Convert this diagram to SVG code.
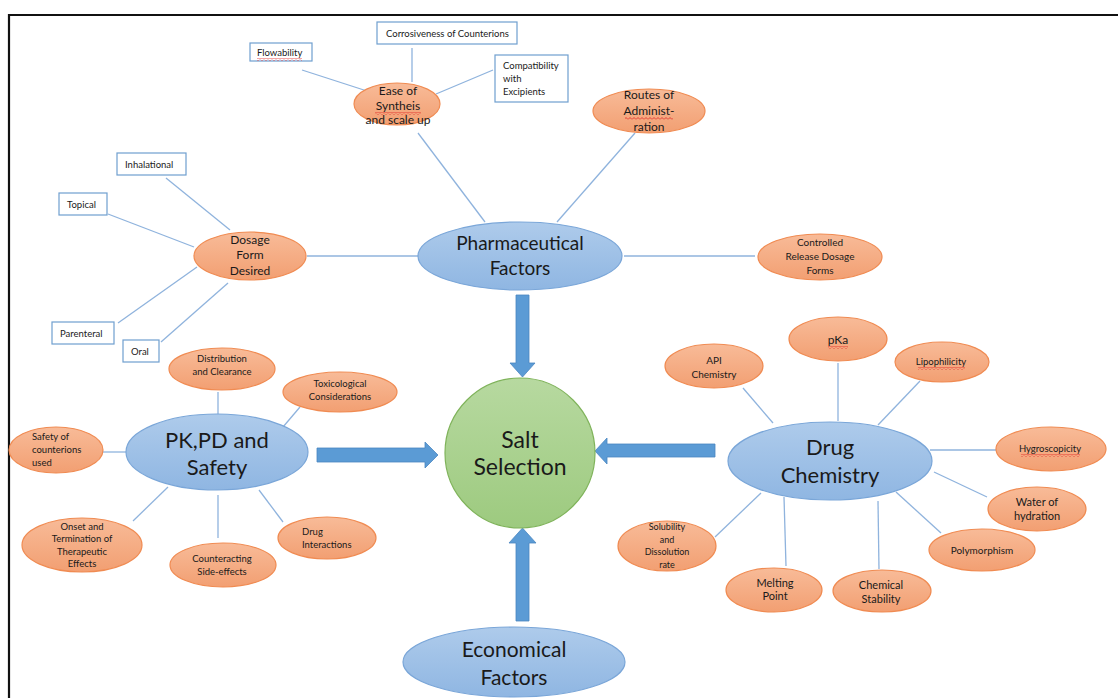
<svg xmlns="http://www.w3.org/2000/svg" width="1118" height="698" viewBox="0 0 1118 698">
<defs>
<linearGradient id="gOr" x1="0" y1="0" x2="0" y2="1"><stop offset="0" stop-color="#f8bb98"/><stop offset="1" stop-color="#f29f72"/></linearGradient>
<linearGradient id="gBl" x1="0" y1="0" x2="0" y2="1"><stop offset="0" stop-color="#aecbeb"/><stop offset="1" stop-color="#8fb6e2"/></linearGradient>
<linearGradient id="gGr" x1="0" y1="0" x2="0" y2="1"><stop offset="0" stop-color="#b7d9a0"/><stop offset="1" stop-color="#9dca7f"/></linearGradient>
<pattern id="wav" width="4" height="3" patternUnits="userSpaceOnUse"><path d="M0,2.5 L2,0.5 L4,2.5" fill="none" stroke="#e02020" stroke-width="0.8"/></pattern>
<style>
.or{fill:url(#gOr);stroke:#f08b52;stroke-width:1.2}
.bl{fill:url(#gBl);stroke:#7aa6d8;stroke-width:1.2}
.gr{fill:url(#gGr);stroke:#7fb35a;stroke-width:1.2}
.bx{fill:#fff;stroke:#6f9fcf;stroke-width:1.2}
.ln{stroke:#8fb3dd;stroke-width:1.3;fill:none}
.ar{fill:#5b9bd5;stroke:#4a86c0;stroke-width:0.8}
text{font-family:Lato,"Liberation Sans",sans-serif;fill:#1a1a1a}
.t10{font-size:10px}
.t11{font-size:11px}
.t12{font-size:12px}
.c{text-anchor:middle}
.w{fill:url(#wav)}
</style>
</defs>
<rect x="0" y="0" width="1118" height="698" fill="#fff"/>
<path d="M9,698 V15 H1118" fill="none" stroke="#111" stroke-width="2.2"/>

<g id="connectors">
<line class="ln" x1="302" y1="70" x2="367" y2="91"/>
<line class="ln" x1="412" y1="48" x2="412" y2="82"/>
<line class="ln" x1="436" y1="94" x2="493" y2="70"/>
<line class="ln" x1="418" y1="133" x2="485" y2="222"/>
<line class="ln" x1="635" y1="133" x2="557" y2="222"/>
<line class="ln" x1="624" y1="256" x2="755" y2="256"/>
<line class="ln" x1="307" y1="256" x2="418" y2="256"/>
<line class="ln" x1="166" y1="178" x2="230" y2="230"/>
<line class="ln" x1="108" y1="214" x2="194" y2="247"/>
<line class="ln" x1="118" y1="323" x2="197" y2="267"/>
<line class="ln" x1="161" y1="342" x2="228" y2="283"/>
<line class="ln" x1="218" y1="392" x2="218" y2="414"/>
<line class="ln" x1="283" y1="427" x2="300" y2="407"/>
<line class="ln" x1="103" y1="452" x2="126" y2="452"/>
<line class="ln" x1="133" y1="521" x2="168" y2="487"/>
<line class="ln" x1="218" y1="495" x2="218" y2="538"/>
<line class="ln" x1="259" y1="490" x2="283" y2="522"/>
<line class="ln" x1="743" y1="388" x2="773" y2="423"/>
<line class="ln" x1="838" y1="363" x2="838" y2="421"/>
<line class="ln" x1="920" y1="381" x2="878" y2="425"/>
<line class="ln" x1="930" y1="450" x2="996" y2="450"/>
<line class="ln" x1="934" y1="472" x2="987" y2="497"/>
<line class="ln" x1="896" y1="492" x2="941" y2="533"/>
<line class="ln" x1="878" y1="501" x2="879" y2="569"/>
<line class="ln" x1="784" y1="497" x2="786" y2="566"/>
<line class="ln" x1="761" y1="493" x2="715" y2="537"/>
<path class="ar" d="M516,295 H529 V363 H535 L522.5,377 L510,363 H516 Z"/>
<path class="ar" d="M516,621 H529 V543 H536 L522.5,528 L509,543 H516 Z"/>
<path class="ar" d="M317,448 H425 V442 L438,455 L425,468 V462 H317 Z"/>
<path class="ar" d="M715,444 H607 V438 L595,451 L607,464 V457 H715 Z"/>
</g>

<g id="pharmaceutical">
<ellipse class="bl" cx="520" cy="256" rx="102" ry="34"/>
<text class="c" x="520" y="250" font-size="19">Pharmaceutical</text>
<text class="c" x="520" y="275" font-size="19">Factors</text>
</g>
<g id="salt">
<circle class="gr" cx="520" cy="453" r="75"/>
<text class="c" x="520" y="448" font-size="23">Salt</text>
<text class="c" x="520" y="475" font-size="23">Selection</text>
</g>
<g id="economical">
<ellipse class="bl" cx="514" cy="662" rx="111" ry="35"/>
<text class="c" x="514" y="657" font-size="21">Economical</text>
<text class="c" x="514" y="685" font-size="21">Factors</text>
</g>
<g id="pkpd">
<ellipse class="bl" cx="217" cy="452" rx="91" ry="38"/>
<text class="c" x="217" y="448" font-size="22">PK,PD and</text>
<text class="c" x="217" y="475" font-size="22">Safety</text>
</g>
<g id="drugchem">
<ellipse class="bl" cx="830" cy="461" rx="102" ry="39"/>
<text class="c" x="830" y="455" font-size="22">Drug</text>
<text class="c" x="830" y="483" font-size="22">Chemistry</text>
</g>

<g id="ease">
<ellipse class="or" cx="397" cy="104" rx="43" ry="21"/>
<text class="c t12" x="398" y="95">Ease of</text>
<text class="c t12" x="398" y="110">Syntheis</text>
<rect class="w" x="375" y="112" width="46" height="3"/>
<text class="c t12" x="398" y="124">and scale up</text>
</g>
<g id="routes">
<ellipse class="or" cx="649" cy="111" rx="56" ry="22"/>
<text class="c t12" x="649" y="99">Routes of</text>
<text class="c t12" x="649" y="115">Administ-</text>
<rect class="w" x="625" y="117" width="48" height="3"/>
<text class="c t12" x="649" y="131">ration</text>
</g>
<g id="controlled">
<ellipse class="or" cx="820" cy="257" rx="62" ry="23"/>
<text class="c t10" x="820" y="246">Controlled</text>
<text class="c t10" x="820" y="260">Release Dosage</text>
<text class="c t10" x="820" y="274">Forms</text>
</g>
<g id="dosage">
<ellipse class="or" cx="250" cy="256" rx="56" ry="24"/>
<text class="c t12" x="250" y="244">Dosage</text>
<text class="c t12" x="250" y="259">Form</text>
<text class="c t12" x="250" y="275">Desired</text>
</g>

<g id="flowability">
<rect class="bx" x="250" y="43" width="62" height="18"/>
<text x="257" y="56" font-size="9.5">Flowability</text>
<rect class="w" x="257" y="58" width="45" height="3"/>
</g>
<g id="corrosiveness">
<rect class="bx" x="377" y="22" width="140" height="22"/>
<text x="386" y="37" font-size="9.5">Corrosiveness of Counterions</text>
</g>
<g id="compatibility">
<rect class="bx" x="495" y="55" width="73" height="47"/>
<text x="503" y="69" font-size="9.5">Compatibility</text>
<text x="503" y="82" font-size="9.5">with</text>
<text x="503" y="95" font-size="9.5">Excipients</text>
</g>
<g id="inhalational">
<rect class="bx" x="117" y="153" width="69" height="22"/>
<text x="125" y="168" font-size="9.5">Inhalational</text>
</g>
<g id="topical">
<rect class="bx" x="59" y="193" width="48" height="22"/>
<text x="67" y="208" font-size="9.5">Topical</text>
</g>
<g id="parenteral">
<rect class="bx" x="52" y="322" width="62" height="22"/>
<text x="60" y="337" font-size="9.5">Parenteral</text>
</g>
<g id="oral">
<rect class="bx" x="123" y="340" width="36" height="22"/>
<text x="131" y="355" font-size="9.5">Oral</text>
</g>

<g id="distribution">
<ellipse class="or" cx="222" cy="369" rx="53" ry="21"/>
<text class="c" x="222" y="362" font-size="9.5">Distribution</text>
<text class="c" x="222" y="375" font-size="9.5">and Clearance</text>
</g>
<g id="toxicological">
<ellipse class="or" cx="340" cy="392" rx="57" ry="20"/>
<text class="c" x="340" y="387" font-size="9.5">Toxicological</text>
<text class="c" x="340" y="400" font-size="9.5">Considerations</text>
</g>
<g id="safetycounter">
<ellipse class="or" cx="56" cy="450" rx="47" ry="23"/>
<text x="32" y="440" font-size="9.5">Safety of</text>
<text x="32" y="453" font-size="9.5">counterions</text>
<text x="32" y="466" font-size="9.5">used</text>
</g>
<g id="onset">
<ellipse class="or" cx="82" cy="545" rx="60" ry="27"/>
<text class="c" x="82" y="530" font-size="9.5">Onset and</text>
<text class="c" x="82" y="542" font-size="9.5">Termination of</text>
<text class="c" x="82" y="555" font-size="9.5">Therapeutic</text>
<text class="c" x="82" y="567" font-size="9.5">Effects</text>
</g>
<g id="counteracting">
<ellipse class="or" cx="223" cy="565" rx="53" ry="22"/>
<text class="c" x="222" y="562" font-size="9.5">Counteracting</text>
<text class="c" x="222" y="575" font-size="9.5">Side-effects</text>
</g>
<g id="interactions">
<ellipse class="or" cx="327" cy="538" rx="49" ry="21"/>
<text x="302" y="535" font-size="9.5">Drug</text>
<text x="302" y="548" font-size="9.5">Interactions</text>
</g>

<g id="api">
<ellipse class="or" cx="714" cy="366" rx="49" ry="22"/>
<text class="c t10" x="714" y="364">API</text>
<text class="c t10" x="714" y="378">Chemistry</text>
</g>
<g id="pka">
<ellipse class="or" cx="838" cy="339" rx="49" ry="22"/>
<text class="c t12" x="838" y="344">pKa</text>
<rect class="w" x="828" y="346" width="20" height="3"/>
</g>
<g id="lipophilicity">
<ellipse class="or" cx="942" cy="362" rx="47" ry="20"/>
<text class="c" x="941" y="365" font-size="9.5">Lipophilicity</text>
<rect class="w" x="918" y="367" width="47" height="3"/>
</g>
<g id="hygroscopicity">
<ellipse class="or" cx="1051" cy="449" rx="55" ry="22"/>
<text class="c" x="1050" y="452" font-size="9.5">Hygroscopicity</text>
<rect class="w" x="1021" y="454" width="59" height="3"/>
</g>
<g id="water">
<ellipse class="or" cx="1037" cy="509" rx="49" ry="22"/>
<text class="c t11" x="1037" y="506">Water of</text>
<text class="c t11" x="1037" y="520">hydration</text>
</g>
<g id="polymorphism">
<ellipse class="or" cx="982" cy="550" rx="53" ry="21"/>
<text class="c t10" x="982" y="554">Polymorphism</text>
</g>
<g id="chemstability">
<ellipse class="or" cx="882" cy="591" rx="49" ry="21"/>
<text class="c t11" x="881" y="589">Chemical</text>
<text class="c t11" x="881" y="603">Stability</text>
</g>
<g id="melting">
<ellipse class="or" cx="774" cy="590" rx="48" ry="22"/>
<text class="c t11" x="775" y="587">Melting</text>
<text class="c t11" x="775" y="600">Point</text>
</g>
<g id="solubility">
<ellipse class="or" cx="667" cy="546" rx="49" ry="25"/>
<text class="c" x="667" y="530" font-size="9">Solubility</text>
<text class="c" x="667" y="543" font-size="9">and</text>
<text class="c" x="667" y="555" font-size="9">Dissolution</text>
<text class="c" x="667" y="568" font-size="9">rate</text>
</g>
</svg>
